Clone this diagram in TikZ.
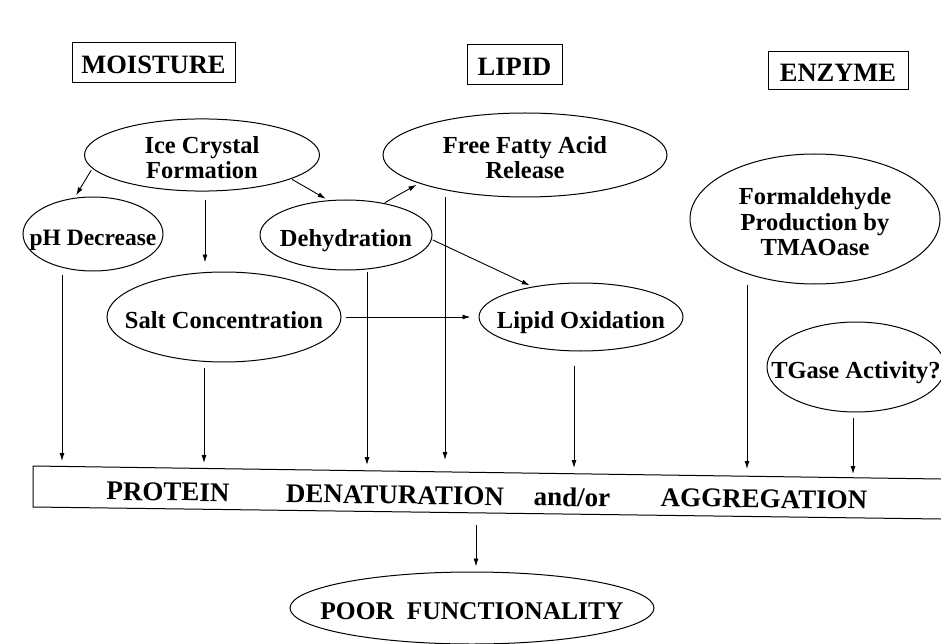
\documentclass[tikz,border=0pt]{standalone}
\usepackage{fontspec}
\setmainfont{Liberation Serif}
\usetikzlibrary{shapes.geometric,arrows.meta}
\newcommand\elltext[1]{\makebox[0pt]{\raisebox{-6pt}[\height][\depth]{\begin{tabular}{@{}c@{}}#1\end{tabular}}}}
\begin{document}
\begin{tikzpicture}[x=1pt,y=-1pt,
  ell/.style={draw, ellipse, inner sep=0pt, line width=1pt,
    font=\fontsize{24.5}{25.5}\selectfont\bfseries},
  lbl/.style={draw, rectangle, inner sep=0pt, line width=1pt, text depth=0pt, text height=22pt,
    font=\fontsize{26.5}{28}\selectfont\bfseries},
  arr/.style={-{Latex[length=8pt,width=5pt]}, line width=0.9pt},
  bandtxt/.style={font=\fontsize{27}{28}\selectfont\bfseries, rotate=-0.8, inner sep=0pt}]
\useasboundingbox (0,0) rectangle (941,644);
\clip (0,0) rectangle (941,644);

% category boxes
\node[lbl, minimum width=163pt, minimum height=40pt] (moist) at (153.5,63) {MOISTURE};
\node[lbl, minimum width=95pt, minimum height=40pt] (lipid) at (514.5,65) {LIPID};
\node[lbl, minimum width=140pt, minimum height=38pt] (enz) at (838,71) {ENZYME};

% ellipses
\node[ell, minimum width=235pt, minimum height=72pt] (ice) at (202,155) {\elltext{Ice Crystal\\Formation}};
\node[ell, minimum width=284pt, minimum height=84pt] (ffa) at (525,155) {\elltext{Free Fatty Acid\\Release}};
\node[ell, minimum width=250pt, minimum height=130pt] (form) at (815,219) {\elltext{Formaldehyde\\Production by\\TMAOase}};
\node[ell, minimum width=140pt, minimum height=74pt, font=\fontsize{23.5}{25}\selectfont\bfseries] (ph) at (93,234) {\elltext{pH Decrease}};
\node[ell, minimum width=172pt, minimum height=70pt] (dehy) at (346,235) {\elltext{Dehydration}};
\node[ell, minimum width=234pt, minimum height=90pt] (salt) at (224,317) {\elltext{Salt Concentration}};
\node[ell, minimum width=204pt, minimum height=68pt] (lipox) at (581,317) {\elltext{Lipid Oxidation}};
\node[ell, minimum width=178pt, minimum height=90pt] (tg) at (856,367) {\elltext{TGase Activity?}};
\node[ell, minimum width=364pt, minimum height=72pt, font=\fontsize{25.5}{26}\selectfont\bfseries] (poor) at (472,608) {\elltext{POOR\enspace FUNCTIONALITY}};

% slanted band
\coordinate (bTR) at (941,479);
\coordinate (bTL) at (33,466);
\coordinate (bBL) at (33,507);
\coordinate (bBR) at (941,519);
\draw[line width=1pt] (bTR) -- (bTL) -- (bBL) -- (bBR);
\node[bandtxt] (t1) at (168,492) {PROTEIN};
\node[bandtxt] (t2) at (395,495) {DENATURATION};
\node[bandtxt] (t3) at (572,497) {and/or};
\node[bandtxt] (t4) at (764,499) {AGGREGATION};

% arrow tips on the band
\coordinate (e1) at (62,461);
\coordinate (e2) at (204,463);
\coordinate (e3) at (367,465);
\coordinate (e4) at (445,460);
\coordinate (e5) at (574,468);
\coordinate (e6) at (747,469);
\coordinate (e7) at (853,474);
\coordinate (bb) at (476,525);

% connectors between ellipses
\draw[arr, shorten <=2pt, shorten >=3pt] (ice.187) -- (ph.117);
\draw[arr, shorten <=8pt, shorten >=9pt] ([xshift=3pt]ice.south) -- ([xshift=3pt]ice.south |- salt.north);
\draw[arr, shorten <=1pt, shorten >=3pt] (ice.-15) -- (dehy.117);
\draw[arr, shorten <=1pt, shorten >=3pt] (dehy.40) -- (ffa.195);
\draw[arr, shorten <=1pt, shorten >=3pt] (dehy.-3) -- (lipox.148);
\draw[arr, shorten <=4pt, shorten >=8pt] (salt.east) -- (lipox.west);

% connectors to the band
\draw[arr, shorten <=3pt] (ph.south -| e1) -- (e1);
\draw[arr, shorten <=5pt] (salt.south -| e2) -- (e2);
\draw[arr, shorten <=1pt] (dehy.south -| e3) -- (e3);
\draw[arr] (ffa.south -| e4) -- (e4);
\draw[arr, shorten <=14pt] (lipox.south -| e5) -- (e5);
\draw[arr] (form.south -| e6) -- (e6);
\draw[arr, shorten <=5pt] (tg.south -| e7) -- (e7);
\draw[arr, shorten >=5pt] (bb) -- (poor.north -| bb);
\end{tikzpicture}
\end{document}
